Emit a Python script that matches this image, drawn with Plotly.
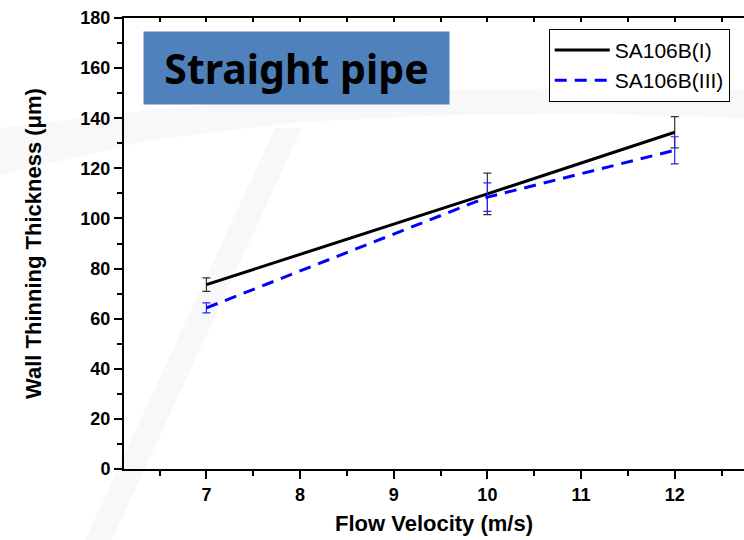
import plotly.graph_objects as go

velocity = [7, 10, 12]
series_names = ["SA106B(I)", "SA106B(III)"]
thick_I = [73.6, 109.8, 134.4]
err_I = [2.7, 8.3, 6.2]
thick_III = [64.3, 108.5, 127.2]
err_III = [2.0, 5.7, 5.4]
x_ticks = [7, 8, 9, 10, 11, 12]
y_ticks = [0, 20, 40, 60, 80, 100, 120, 140, 160, 180]

FONT = "Liberation Sans, Arial, sans-serif"

# plot area in pixels (for background decoration only)
L, R, T, B = 124, 744, 18, 469
def px(x, y):
    return (x - L) / (R - L), (B - y) / (B - T)

def path(points):
    s = ""
    for i, (x, y) in enumerate(points):
        a, b = px(x, y)
        s += ("M" if i == 0 else "L") + f"{a:.4f},{b:.4f} "
    return s + "Z"

arc_top = [(0, 128), (150, 110), (300, 97), (450, 90), (600, 88), (744, 90)]
arc_bot = [(744, 118), (600, 114), (450, 115), (300, 122), (150, 140), (0, 175)]
diag = [(275, 128), (302, 128), (112, 540), (85, 540)]

fig = go.Figure()
fig.add_trace(go.Scatter(
    x=velocity, y=thick_I, name=series_names[0], mode="lines",
    line=dict(color="black", width=3),
    error_y=dict(type="data", array=err_I, visible=True, thickness=1.2, width=4, color="#333333"),
))
fig.add_trace(go.Scatter(
    x=velocity, y=thick_III, name=series_names[1], mode="lines",
    line=dict(color="#0000FF", width=3, dash="12px,8px"),
    error_y=dict(type="data", array=err_III, visible=True, thickness=1.2, width=4, color="#2020FF"),
))
fig.add_trace(go.Scatter(x=[7], y=[0], xaxis="x2", showlegend=False, mode="markers",
                         marker=dict(opacity=0), hoverinfo="skip"))

fig.update_layout(
    width=744, height=540,
    margin=dict(l=L, r=0, t=T, b=540 - B),
    paper_bgcolor="white", plot_bgcolor="rgba(0,0,0,0)",
    font=dict(family=FONT, color="black"),
    showlegend=True,
    legend=dict(x=0.977, y=0.976, xanchor="right", yanchor="top",
                bgcolor="white", bordercolor="black", borderwidth=1,
                font=dict(family=FONT, size=21, color="black"),
                itemwidth=55, tracegroupgap=0),
    xaxis=dict(
        range=[6.12, 12.74], tickvals=x_ticks, ticktext=[str(v) for v in x_ticks],
        showgrid=False, zeroline=False, showline=True, linecolor="black", linewidth=2,
        ticks="outside", ticklen=8, tickwidth=2, tickcolor="black",
        minor=dict(dtick=0.5, tick0=6.5, ticks="outside", ticklen=5, tickwidth=2, tickcolor="black"),
        tickfont=dict(family=FONT, size=18, color="black", weight="bold"),
        title=dict(text="Flow Velocity (m/s)", font=dict(family=FONT, size=22, color="black", weight="bold"), standoff=12),
    ),
    xaxis2=dict(
        overlaying="x", side="top", matches="x", range=[6.12, 12.74],
        showgrid=False, zeroline=False, showline=True, linecolor="black", linewidth=1.5,
        ticks="inside", dtick=0.5, tick0=6.5, ticklen=4, tickwidth=1.5, tickcolor="black",
        showticklabels=False,
    ),
    yaxis=dict(
        range=[0, 180], tickvals=y_ticks,
        showgrid=False, zeroline=False, showline=True, linecolor="black", linewidth=2,
        ticks="outside", ticklen=8, tickwidth=2, tickcolor="black",
        minor=dict(dtick=10, ticks="outside", ticklen=5, tickwidth=2, tickcolor="black"),
        tickfont=dict(family=FONT, size=18, color="black", weight="bold"),
        title=dict(text="Wall Thinning Thickness (\u03bcm)", font=dict(family=FONT, size=22, color="black", weight="bold"), standoff=33),
    ),
    shapes=[
        dict(type="path", xref="paper", yref="paper", path=path(arc_top + arc_bot),
             fillcolor="#f8f8f8", line=dict(width=0), layer="below"),
        dict(type="path", xref="paper", yref="paper", path=path(diag),
             fillcolor="#f8f8f8", line=dict(width=0), layer="below"),
    ],
    annotations=[dict(
        xref="paper", yref="paper", x=0.278, y=0.889, xanchor="center", yanchor="middle",
        text="<b>Straight pipe</b>", showarrow=False,
        font=dict(family="Noto Sans", size=41, color="black"),
        bgcolor="#4F81BD", width=305, height=72, borderpad=0,
    )],
)

fig.write_html("out.html")
